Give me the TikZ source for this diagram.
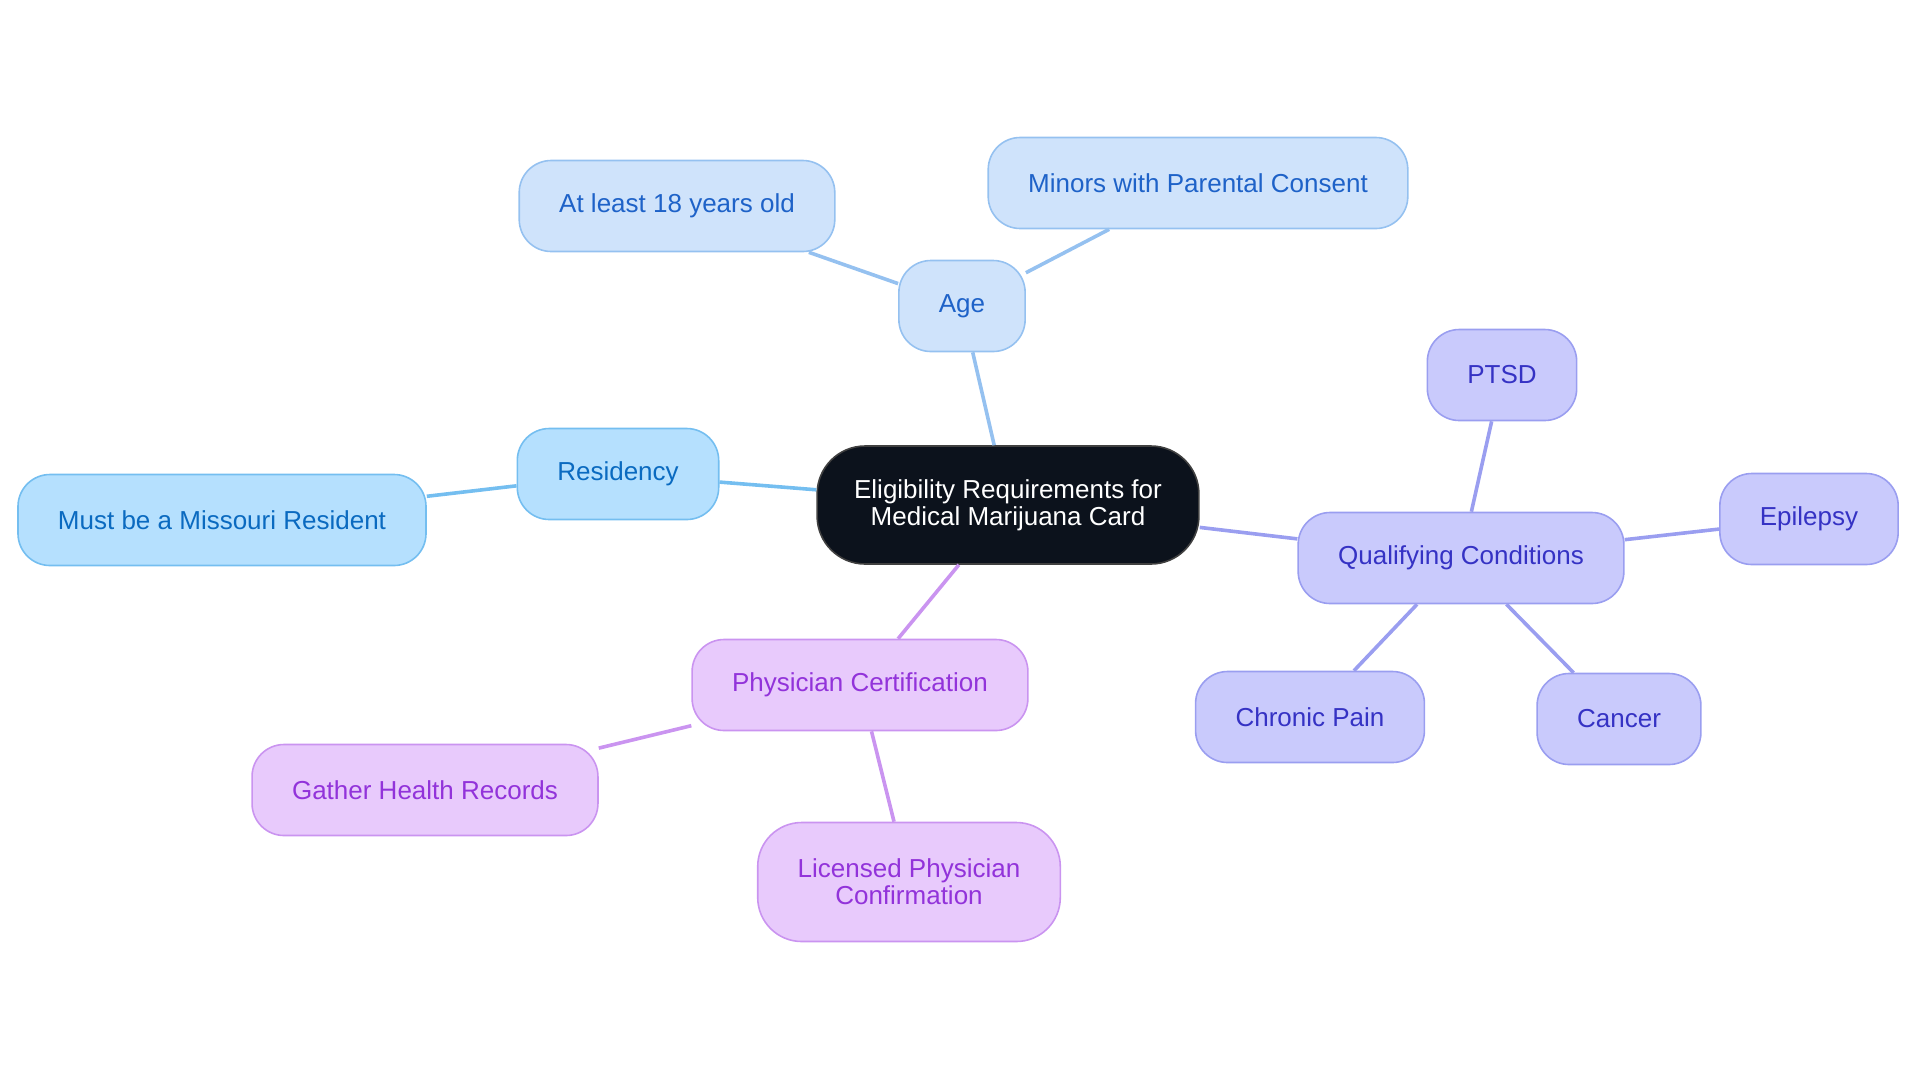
\documentclass[tikz,border=0pt]{standalone}
\usepackage{fontspec}
\setmainfont{Liberation Sans}
\definecolor{agefill}{HTML}{CFE3FB}
\definecolor{ageline}{HTML}{95C1F0}
\definecolor{agetext}{HTML}{1E62C8}
\definecolor{resfill}{HTML}{B5E0FE}
\definecolor{resline}{HTML}{74BEF0}
\definecolor{restext}{HTML}{0A6AC0}
\definecolor{qualfill}{HTML}{C9CAFC}
\definecolor{qualline}{HTML}{9A9EF0}
\definecolor{qualtext}{HTML}{3532C4}
\definecolor{physfill}{HTML}{E8CAFC}
\definecolor{physline}{HTML}{CA94F0}
\definecolor{phystext}{HTML}{9233DA}
\definecolor{rootfill}{HTML}{0C121C}
\begin{document}
\begin{tikzpicture}[x=0.5pt, y=-0.5pt,
  box/.style={draw, rounded corners=16pt, line width=0.8pt, inner xsep=20pt, minimum height=45.5pt, align=center, font=\fontsize{13}{13.5}\selectfont},
  agebox/.style={box, fill=agefill, draw=ageline, text=agetext},
  resbox/.style={box, fill=resfill, draw=resline, text=restext},
  qualbox/.style={box, fill=qualfill, draw=qualline, text=qualtext},
  physbox/.style={box, fill=physfill, draw=physline, text=phystext},
  rootbox/.style={box, fill=rootfill, draw=black!75, text=white, rounded corners=24pt, minimum height=59pt, inner xsep=18.5pt},
  link/.style={line width=1.8pt}]
\useasboundingbox (0,0) rectangle (1920,1083);

% root
\node[rootbox] (root) at (1008,505) {Eligibility Requirements for\\Medical Marijuana Card};

% age
\node[agebox] (age) at (962,306) {Age};
\node[agebox] (adult) at (677,206) {At least 18 years old};
\node[agebox] (minors) at (1198,183) {Minors with Parental Consent};

% residency
\node[resbox] (res) at (618,474) {Residency};
\node[resbox] (resident) at (222,520) {Must be a Missouri Resident};

% conditions
\node[qualbox] (qual) at (1461,558) {Qualifying Conditions};
\node[qualbox] (ptsd) at (1502,375) {PTSD};
\node[qualbox] (epi) at (1809,519) {Epilepsy};
\node[qualbox] (chronic) at (1310,717) {Chronic Pain};
\node[qualbox] (cancer) at (1619,719) {Cancer};

% physician
\node[physbox] (phys) at (860,685) {Physician Certification};
\node[physbox] (gather) at (425,790) {Gather Health Records};
\node[physbox, minimum height=59.5pt, rounded corners=22pt] (licensed) at (909,882) {Licensed Physician\\Confirmation};

% links
\foreach \a/\b/\c in {root/age/ageline, age/adult/ageline, age/minors/ageline,
  root/res/resline, res/resident/resline,
  root/qual/qualline, qual/ptsd/qualline, qual/epi/qualline, qual/chronic/qualline, qual/cancer/qualline,
  root/phys/physline, phys/gather/physline, phys/licensed/physline}
  \draw[link, \c] (\a) -- (\b);

\end{tikzpicture}
\end{document}
